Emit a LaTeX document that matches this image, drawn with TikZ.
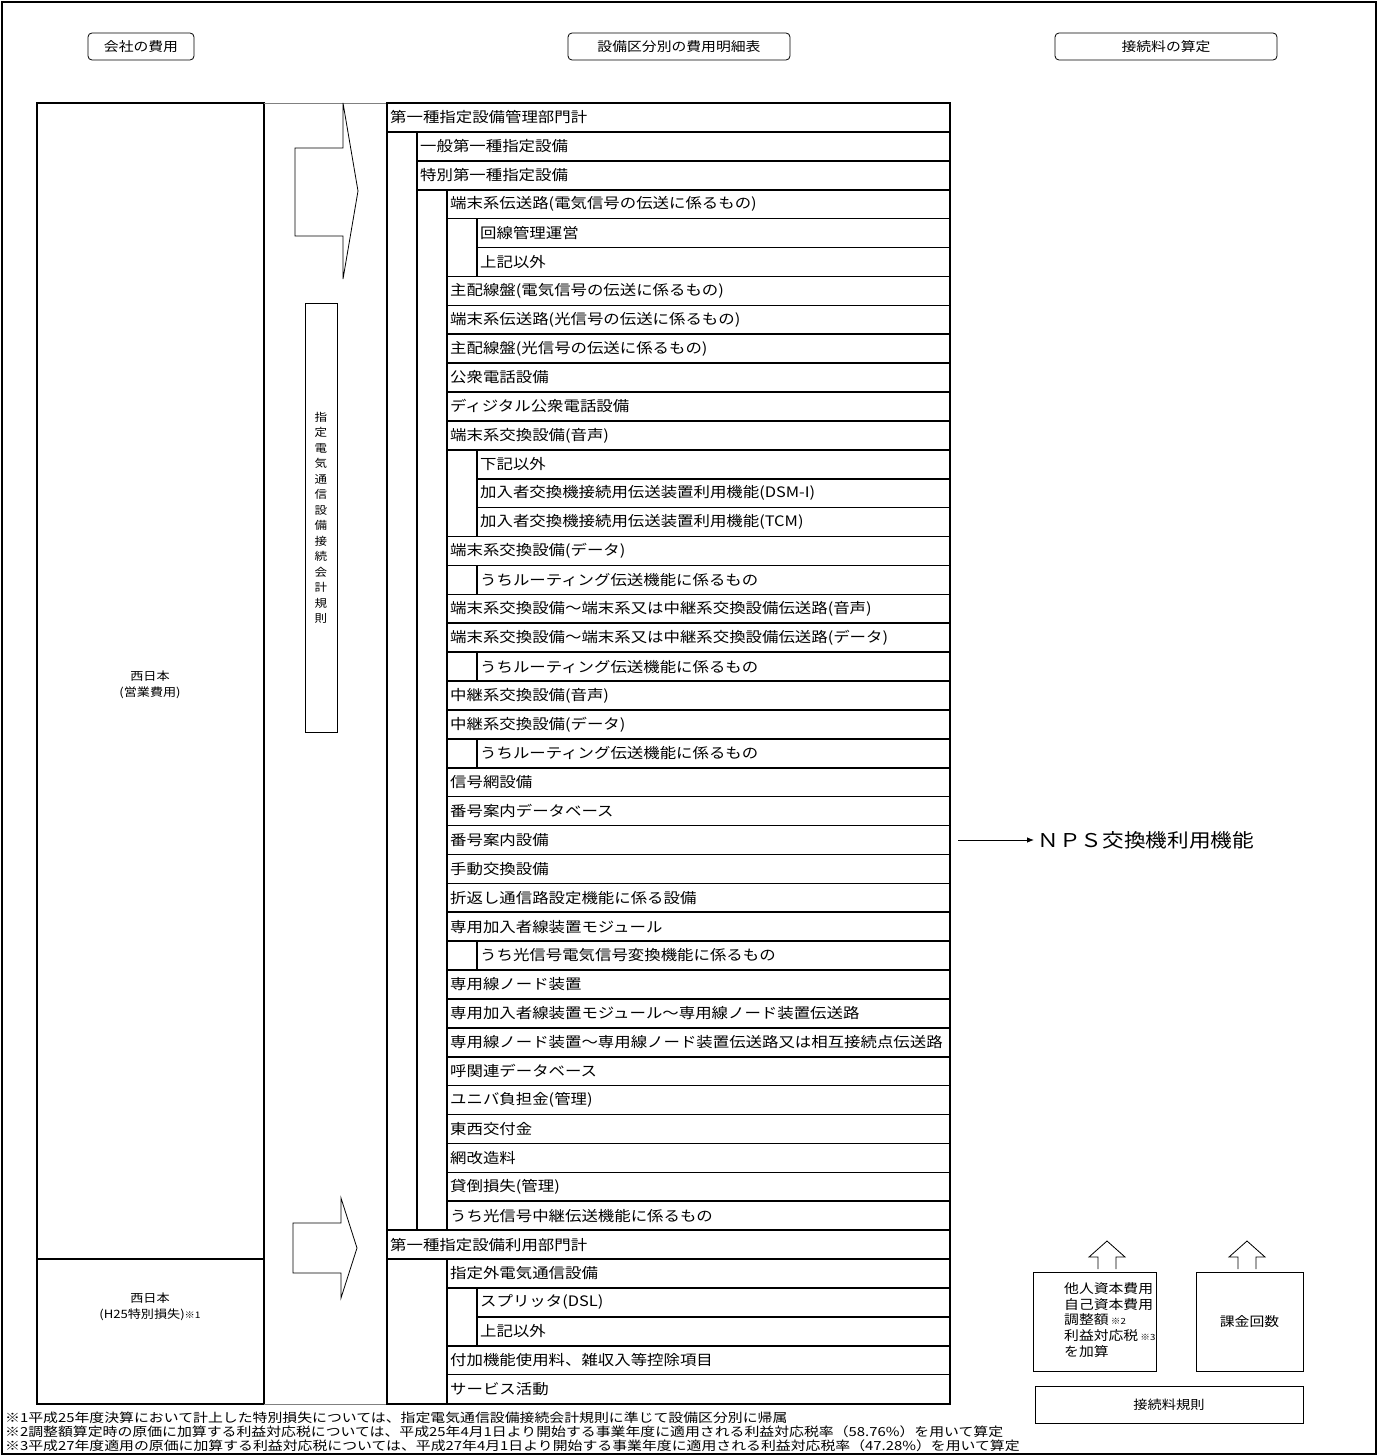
\documentclass[tikz,border=0pt]{standalone}
\usepackage{fontspec}
\setmainfont[FakeStretch=1.14]{Noto Sans CJK JP}
\newfontfamily\fnfont[FakeStretch=1.19]{Noto Sans CJK JP}
\usetikzlibrary{arrows.meta}
\tikzset{
  hdr/.style={draw, rounded corners=4pt, line width=0.8pt, font=\fontsize{13}{15}\selectfont, inner sep=0pt},
  tbl/.style={line width=1.6pt},
  thickbox/.style={line width=2pt},
  rowtxt/.style={anchor=west, inner sep=2pt, font=\fontsize{14.4}{17}\selectfont},
  lbltxt/.style={align=center, font=\fontsize{11.5}{16}\selectfont, inner sep=0pt},
  blockarrow/.style={draw, line width=0.8pt, fill=white},
  thinbox/.style={draw, line width=0.8pt, inner sep=0pt},
  fntxt/.style={anchor=west, inner sep=0pt, font=\fnfont\fontsize{12.5}{14}\selectfont},
}
\begin{document}
\begin{tikzpicture}[x=1pt, y=-1pt]
\useasboundingbox (0,0) rectangle (1378,1456);
\draw[thickbox] (2,2) rectangle (1376,1454);

% headers
\node[hdr, minimum width=106, minimum height=27] (h1) at (141,46.5) {会社の費用};
\node[hdr, minimum width=222, minimum height=27] (h2) at (679,46.5) {設備区分別の費用明細表};
\node[hdr, minimum width=222, minimum height=27] (h3) at (1166,46.5) {接続料の算定};

% left company cost boxes
\draw[thickbox] (37,103) rectangle (264,1404);
\draw[thickbox] (37,1259) -- (264,1259);
\node[lbltxt] (west1) at (150,685) {西日本\\(営業費用)};
\node[lbltxt] (west2) at (150,1307) {西日本\\(H25特別損失){\fontsize{9}{10}\selectfont ※1}};

% middle column
\draw[gray, line width=1pt] (264,103) -- (387,103);
\draw[gray, line width=1pt] (264,1404) -- (387,1404);
\draw[blockarrow] (295,148) -- (343,148) -- (343,103) -- (358,191) -- (343,279) -- (343,236) -- (295,236) -- cycle;
\draw[blockarrow] (293,1223) -- (341,1223) -- (341,1198) -- (357,1248) -- (341,1298) -- (341,1273) -- (293,1273) -- cycle;
\node[thinbox, minimum width=32, minimum height=429] (rule) at (321,517.5) {};
\node[align=center, inner sep=0pt, font=\fontsize{11}{15.5}\selectfont] (ruletxt) at (321,518) {指\\定\\電\\気\\通\\信\\設\\備\\接\\続\\会\\計\\規\\則};

% table
\draw[tbl] (387,103) rectangle (950,1404);
\foreach \lv/\txt [count=\i] in {
0/第一種指定設備管理部門計,
1/一般第一種指定設備,
1/特別第一種指定設備,
2/端末系伝送路(電気信号の伝送に係るもの),
3/回線管理運営,
3/上記以外,
2/主配線盤(電気信号の伝送に係るもの),
2/端末系伝送路(光信号の伝送に係るもの),
2/主配線盤(光信号の伝送に係るもの),
2/公衆電話設備,
2/ディジタル公衆電話設備,
2/端末系交換設備(音声),
3/下記以外,
3/加入者交換機接続用伝送装置利用機能(DSM-I),
3/加入者交換機接続用伝送装置利用機能(TCM),
2/端末系交換設備(データ),
3/うちルーティング伝送機能に係るもの,
2/端末系交換設備～端末系又は中継系交換設備伝送路(音声),
2/端末系交換設備～端末系又は中継系交換設備伝送路(データ),
3/うちルーティング伝送機能に係るもの,
2/中継系交換設備(音声),
2/中継系交換設備(データ),
3/うちルーティング伝送機能に係るもの,
2/信号網設備,
2/番号案内データベース,
2/番号案内設備,
2/手動交換設備,
2/折返し通信路設定機能に係る設備,
2/専用加入者線装置モジュール,
3/うち光信号電気信号変換機能に係るもの,
2/専用線ノード装置,
2/専用加入者線装置モジュール～専用線ノード装置伝送路,
2/専用線ノード装置～専用線ノード装置伝送路又は相互接続点伝送路,
2/呼関連データベース,
2/ユニバ負担金(管理),
2/東西交付金,
2/網改造料,
2/貸倒損失(管理),
2/うち光信号中継伝送機能に係るもの,
0/第一種指定設備利用部門計,
2/指定外電気通信設備,
3/スプリッタ(DSL),
3/上記以外,
2/付加機能使用料、雑収入等控除項目,
2/サービス活動} {
  \pgfmathsetmacro\yy{103+(\i-1)*28.9}
  \pgfmathsetmacro\xx{387+30*\lv}
  \draw[tbl] (\xx,\yy) rectangle (950,\yy+28.9);
  \node[rowtxt] (row\i) at (\xx+1,\yy+14.45) {\txt};
}
\draw[tbl] (417,131.9) -- (417,1230.1);
\draw[tbl] (447,189.7) -- (447,1230.1);
\draw[tbl] (447,1259) -- (447,1404);

% NPS
\node[anchor=west, font=\fontsize{19}{22}\selectfont] (nps) at (1034,840) {ＮＰＳ交換機利用機能};
\coordinate (npsfrom) at (958,840);
\draw[line width=0.8pt, -{Latex[length=7pt,width=5.5pt]}] (npsfrom) -- (nps.west);

% bottom right
\draw[line width=0.8pt] (1098,1269) -- (1098,1257) -- (1089,1257) -- (1107,1241) -- (1125,1257) -- (1116,1257) -- (1116,1269);
\draw[line width=0.8pt] (1238,1269) -- (1238,1257) -- (1229,1257) -- (1247,1241) -- (1265,1257) -- (1256,1257) -- (1256,1269);
\node[thinbox, minimum width=123, minimum height=99] (capbox) at (1094.5,1321.5) {};
\node[anchor=west, inner sep=0pt, align=left, font=\fontsize{13}{15.8}\selectfont] (captxt) at (1064,1320) {他人資本費用\\自己資本費用\\調整額{\fontsize{8.5}{10}\selectfont\ ※2}\\利益対応税{\fontsize{8.5}{10}\selectfont\ ※3}\\を加算};
\node[thinbox, minimum width=107, minimum height=99, font=\fontsize{13}{15}\selectfont] (kakin) at (1249.5,1321.5) {課金回数};
\node[thinbox, minimum width=268, minimum height=37, font=\fontsize{12.5}{15}\selectfont] (kisoku) at (1169,1404.5) {接続料規則};

% footnotes
\node[fntxt] (fn1) at (5,1418) {※1平成25年度決算において計上した特別損失については、指定電気通信設備接続会計規則に準じて設備区分別に帰属};
\node[fntxt] (fn2) at (5,1432) {※2調整額算定時の原価に加算する利益対応税については、平成25年4月1日より開始する事業年度に適用される利益対応税率（58.76\%）を用いて算定};
\node[fntxt] (fn3) at (5,1446) {※3平成27年度適用の原価に加算する利益対応税については、平成27年4月1日より開始する事業年度に適用される利益対応税率（47.28\%）を用いて算定};
\end{tikzpicture}
\end{document}
